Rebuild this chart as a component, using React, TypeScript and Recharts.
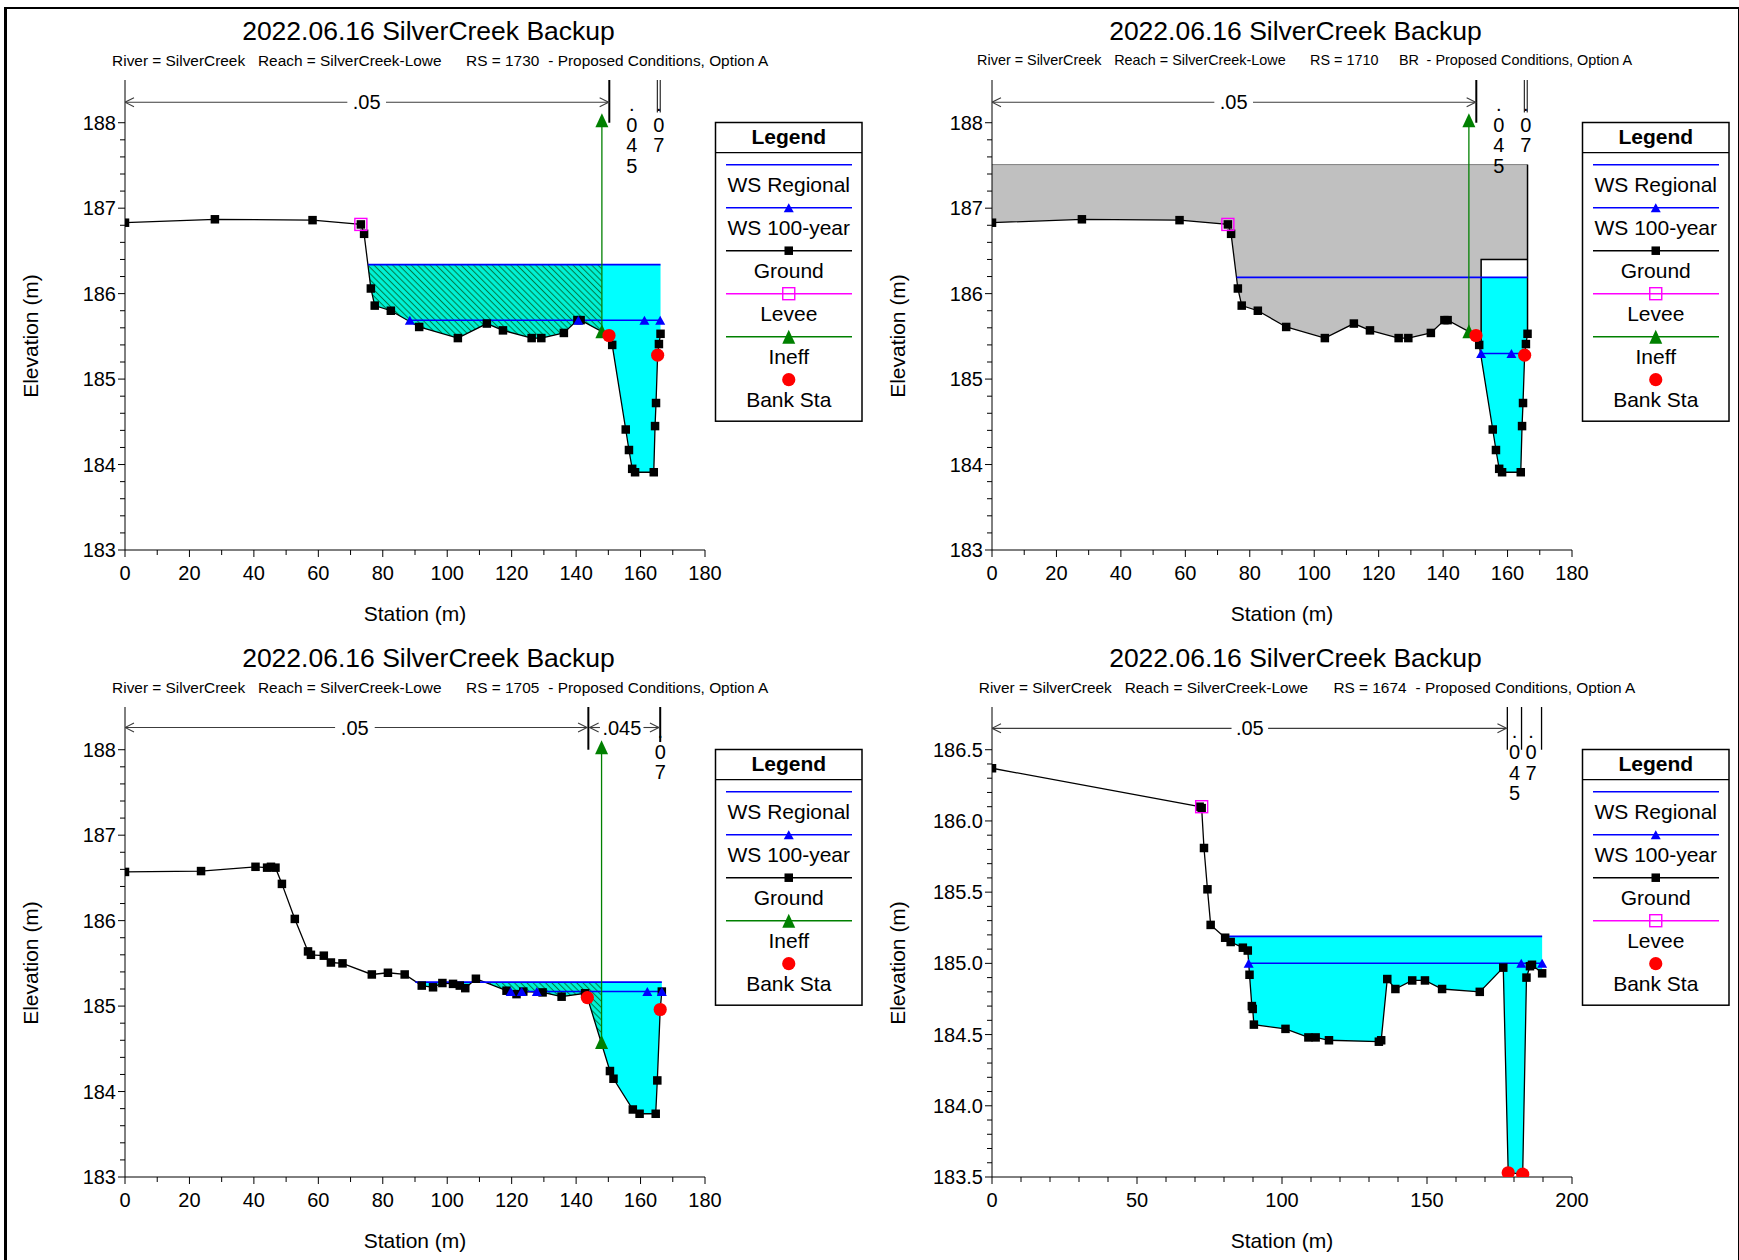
import React from 'react';
import { ComposedChart, Area, Line, Scatter, XAxis, YAxis } from 'recharts';

const FONT = '"Liberation Sans", Arial, Helvetica, sans-serif';
const TITLE = '2022.06.16 SilverCreek Backup';

// ---------------- Ground data ----------------
// RS 1730 (also used for the bridge section RS 1710, same geometry)
const GROUND_1730_STA = [0, 27.9, 58.2, 73.2, 74.2, 76.3, 77.5, 82.5, 91.3, 103.3, 112.3, 117.3, 126.2, 129.2, 136.2, 140.4, 141.4, 150.2, 151.2, 155.4, 156.4, 157.4, 158.3, 164.1, 164.5, 164.8, 165.3, 165.7, 166.2];
const GROUND_1730_ELEV = [186.83, 186.87, 186.86, 186.81, 186.70, 186.06, 185.86, 185.80, 185.61, 185.48, 185.65, 185.57, 185.48, 185.48, 185.54, 185.69, 185.69, 185.51, 185.40, 184.41, 184.17, 183.95, 183.91, 183.91, 184.45, 184.72, 185.28, 185.41, 185.53];
// RS 1705
const GROUND_1705_STA = [0, 23.6, 40.5, 44.1, 45.3, 46.7, 48.7, 52.7, 56.8, 57.7, 61.7, 63.9, 67.5, 76.6, 81.6, 86.8, 92.1, 95.6, 98.5, 101.8, 103.9, 105.6, 108.9, 118.4, 121.5, 123.6, 129.6, 135.5, 142.8, 143.5, 150.5, 151.6, 157.6, 159.7, 164.7, 165.2, 166.1, 166.6];
const GROUND_1705_ELEV = [186.57, 186.58, 186.63, 186.62, 186.63, 186.62, 186.43, 186.02, 185.64, 185.60, 185.59, 185.51, 185.50, 185.37, 185.39, 185.37, 185.24, 185.22, 185.27, 185.26, 185.24, 185.21, 185.32, 185.18, 185.14, 185.17, 185.16, 185.11, 185.15, 185.10, 184.24, 184.15, 183.79, 183.74, 183.74, 184.13, 184.96, 185.17];
// RS 1674
const GROUND_1674_STA = [0, 71.6, 72.3, 73.1, 74.3, 75.4, 80.4, 82.3, 86.5, 88.2, 88.8, 89.6, 89.9, 90.3, 101.2, 109.1, 111.6, 116.2, 133.4, 134.2, 136.3, 139.1, 144.9, 149.3, 155.2, 168.2, 176.3, 178.0, 183.0, 184.3, 185.5, 186.2, 189.7];
const GROUND_1674_ELEV = [186.37, 186.10, 186.09, 185.81, 185.52, 185.27, 185.18, 185.15, 185.11, 185.09, 184.92, 184.70, 184.68, 184.57, 184.54, 184.48, 184.48, 184.46, 184.45, 184.46, 184.89, 184.82, 184.88, 184.88, 184.82, 184.80, 184.97, 183.53, 183.52, 184.90, 184.98, 184.99, 184.93];

// ---------------- Water surfaces ----------------
const WSREG_1730_STA = [75.4, 166.2]; const WSREG_1730_ELEV = 186.34;
const WS100_1730_STA = [88.4, 140.7, 161.2, 166.1]; const WS100_1730_ELEV = 185.69;
const WSREG_1710_STA = [75.9, 166.2]; const WSREG_1710_ELEV = 186.19;
const WS100_1710_STA = [151.8, 161.2, 165.4]; const WS100_1710_ELEV = 185.30;
const WSREG_1705_STA = [90.1, 166.6]; const WSREG_1705_ELEV = 185.28;
const WS100_1705_STA = [119.7, 123.1, 127.8, 162.1, 166.6]; const WS100_1705_ELEV = 185.17;
const WSREG_1674_STA = [79.5, 189.7]; const WSREG_1674_ELEV = 185.19;
const WS100_1674_STA = [88.5, 182.5, 189.7]; const WS100_1674_ELEV = 185.00;

// ---------------- Bank stations, levees, ineffective ----------------
const BANK_1730_STA = [150.2, 165.3]; const BANK_1730_ELEV = [185.51, 185.28];
const BANK_1705_STA = [143.5, 166.1]; const BANK_1705_ELEV = [185.10, 184.96];
const BANK_1674_STA = [178.0, 183.0]; const BANK_1674_ELEV = [183.53, 183.52];
const LEVEE_1730_STA = [73.2]; const LEVEE_1730_ELEV = [186.81];
const LEVEE_1674_STA = [72.3]; const LEVEE_1674_ELEV = [186.10];
const INEFF_1730_STA = [148.0, 148.0]; const INEFF_1730_ELEV = [185.56, 188.03];
const INEFF_1705_STA = [147.9, 147.9]; const INEFF_1705_ELEV = [184.58, 188.03];

// ---------------- Fills (kind, station range, top elevation) ----------------
const FILLS_1730 = [
  { kind: 'hatch', sta: [75.4, 148.0], top: 186.34 },
  { kind: 'cyan', sta: [148.0, 166.2], top: 186.34 },
];
const FILLS_1710 = [
  { kind: 'grey', sta: [0, 166.2], top: 187.51 },
  { kind: 'white', sta: [151.8, 166.2], top: 186.40 },
  { kind: 'cyan', sta: [151.8, 166.2], top: 186.19 },
];
const FILLS_1705 = [
  { kind: 'cyan', sta: [90.1, 108.9], top: 185.28 },
  { kind: 'hatch', sta: [108.9, 147.9], top: 185.28 },
  { kind: 'cyan', sta: [147.9, 166.6], top: 185.28 },
];
const FILLS_1674 = [{ kind: 'cyan', sta: [79.5, 189.7], top: 185.19 }];

// Bridge opening outline for RS 1710
const OPENING_1710 = [
  { sta: [151.8, 151.8, 166.2], elev: [185.35, 186.40, 186.40] },
  { sta: [166.2, 166.2], elev: [187.51, 185.53] },
];

// ---------------- Manning's n annotations ----------------
const N_ARROWS_A = [
  { x1: 0, x2: 69.0, y: 188.24, l: true, r: false },
  { x1: 81.0, x2: 150.1, y: 188.24, l: false, r: true },
];
const N_BREAKS_A = [
  { x: 150.3, y1: 188.0, y2: 188.5, w: 2 },
  { x: 165.2, y1: 188.12, y2: 188.5, w: 1 },
  { x: 166.1, y1: 188.12, y2: 188.5, w: 1 },
];
const N_TEXT_A = [
  { x: 75.0, y: 188.24, t: '.05', v: false },
  { x: 157.3, y: 188.22, t: '.045', v: true },
  { x: 165.65, y: 188.22, t: '.07', v: true },
];
const N_ARROWS_C = [
  { x1: 0, x2: 65.2, y: 188.26, l: true, r: false },
  { x1: 77.5, x2: 143.4, y: 188.26, l: false, r: true },
  { x1: 144.2, x2: 147.4, y: 188.26, l: true, r: false },
  { x1: 160.9, x2: 165.7, y: 188.26, l: false, r: true },
];
const N_BREAKS_C = [
  { x: 143.8, y1: 188.0, y2: 188.5, w: 2 },
  { x: 166.1, y1: 188.09, y2: 188.5, w: 2 },
];
const N_TEXT_C = [
  { x: 71.3, y: 188.26, t: '.05', v: false },
  { x: 154.2, y: 188.26, t: '.045', v: false },
  { x: 166.1, y: 188.22, t: '.07', v: true },
];
const N_ARROWS_D = [
  { x1: 0, x2: 82.6, y: 186.65, l: true, r: false },
  { x1: 95.2, x2: 177.4, y: 186.65, l: false, r: true },
];
const N_BREAKS_D = [
  { x: 177.7, y1: 186.5, y2: 186.8, w: 1.3 },
  { x: 182.6, y1: 186.5, y2: 186.8, w: 1.3 },
  { x: 189.5, y1: 186.5, y2: 186.8, w: 1.3 },
];
const N_TEXT_D = [
  { x: 88.9, y: 186.65, t: '.05', v: false },
  { x: 180.2, y: 186.63, t: '.045', v: true },
  { x: 185.9, y: 186.63, t: '.07', v: true },
];

// ---------------- Axis ticks ----------------
const X_TICKS_180 = [0, 10, 20, 30, 40, 50, 60, 70, 80, 90, 100, 110, 120, 130, 140, 150, 160, 170, 180];
const X_TICKS_200 = [0, 10, 20, 30, 40, 50, 60, 70, 80, 90, 100, 110, 120, 130, 140, 150, 160, 170, 180, 190, 200];
const Y_TICKS_183_188 = [183, 183.2, 183.4, 183.6, 183.8, 184, 184.2, 184.4, 184.6, 184.8, 185, 185.2, 185.4, 185.6, 185.8, 186, 186.2, 186.4, 186.6, 186.8, 187, 187.2, 187.4, 187.6, 187.8, 188];
const Y_TICKS_1835_1865 = [183.5, 183.6, 183.7, 183.8, 183.9, 184.0, 184.1, 184.2, 184.3, 184.4, 184.5, 184.6, 184.7, 184.8, 184.9, 185.0, 185.1, 185.2, 185.3, 185.4, 185.5, 185.6, 185.7, 185.8, 185.9, 186.0, 186.1, 186.2, 186.3, 186.4, 186.5];

const LEGEND_FULL = ['WS Regional', 'WS 100-year', 'Ground', 'Levee', 'Ineff', 'Bank Sta'];
const LEGEND_NO_LEVEE = ['WS Regional', 'WS 100-year', 'Ground', 'Ineff', 'Bank Sta'];
const LEGEND_NO_INEFF = ['WS Regional', 'WS 100-year', 'Ground', 'Levee', 'Bank Sta'];

// Subtitle pieces: [text, x] (x in px within a panel)
const SUB_1730 = [['River = SilverCreek', 112.1], ['Reach = SilverCreek-Lowe', 258], ['RS = 1730', 466.1], ['- Proposed Conditions, Option A', 548.3]];
const SUB_1710 = [['River = SilverCreek', 110.1], ['Reach = SilverCreek-Lowe', 247.2], ['RS = 1710', 443], ['BR', 531.9], ['- Proposed Conditions, Option A', 559.6]];
const SUB_1705 = [['River = SilverCreek', 112.1], ['Reach = SilverCreek-Lowe', 258], ['RS = 1705', 466.1], ['- Proposed Conditions, Option A', 548.3]];
const SUB_1674 = [['River = SilverCreek', 111.8], ['Reach = SilverCreek-Lowe', 257.7], ['RS = 1674', 466.4], ['- Proposed Conditions, Option A', 548.5]];

// ---------------- helpers ----------------
type Pt = { x: number; y: number };
const pts = (xs: number[], ys: number[]): Pt[] => xs.map((x, i) => ({ x, y: ys[i] }));
const flat = (xs: number[], y: number): Pt[] => xs.map((x) => ({ x, y }));
const isMult = (v: number, step: number) => Math.abs(v / step - Math.round(v / step)) < 1e-6;

const COL = {
  cyan: '#00ffff',
  blue: '#0000ff',
  green: '#008000',
  red: '#ff0000',
  magenta: '#ff00ff',
  grey: '#c0c0c0',
  greyEdge: '#808080',
  hatchBg: '#00f2d6',
  hatchLine: '#007a48',
  arrow: '#3c3c3c',
};

const triPath = (cx: number, cy: number, w: number, h: number) =>
  `M${cx - w / 2},${cy + h / 2} L${cx + w / 2},${cy + h / 2} L${cx},${cy - h / 2} Z`;

const Tri = ({ cx, cy, w, h, fill }: any) => <path d={triPath(cx, cy, w, h)} fill={fill} stroke="none" />;
const Sq = ({ cx, cy, s, fill }: any) => <rect x={cx - s / 2} y={cy - s / 2} width={s} height={s} fill={fill} />;
const HollowSq = ({ cx, cy, s, stroke }: any) => (
  <rect x={cx - s / 2} y={cy - s / 2} width={s} height={s} fill="none" stroke={stroke} strokeWidth={1.4} />
);

const okPt = (p: any) => p && typeof p.cx === 'number' && typeof p.cy === 'number' && !isNaN(p.cy);

const groundDot = (p: any) =>
  okPt(p) ? <Sq key={`g${p.index}`} cx={p.cx} cy={p.cy} s={8.5} fill="#000" /> : <g key={`g${p.index}`} />;
const wsDot = (p: any) =>
  okPt(p) ? <Tri key={`w${p.index}`} cx={p.cx} cy={p.cy} w={10} h={9} fill={COL.blue} /> : <g key={`w${p.index}`} />;
const ineffDot = (p: any) =>
  okPt(p) ? <Tri key={`i${p.index}`} cx={p.cx} cy={p.cy} w={13} h={14} fill={COL.green} /> : <g key={`i${p.index}`} />;

const arrowDot = (seg: any) => (p: any) => {
  if (!okPt(p)) return <g key={`a${p.index}`} />;
  const left = p.index === 0 && seg.l;
  const right = p.index === 1 && seg.r;
  if (!left && !right) return <g key={`a${p.index}`} />;
  const d = left ? 1 : -1;
  return (
    <path
      key={`a${p.index}`}
      d={`M${p.cx + d * 9},${p.cy - 4.5} L${p.cx},${p.cy} L${p.cx + d * 9},${p.cy + 4.5}`}
      fill="none"
      stroke={COL.arrow}
      strokeWidth={1.1}
    />
  );
};

const nTextShape = (props: any) => {
  const { cx, cy, payload } = props;
  if (typeof cx !== 'number') return <g />;
  const st = { fontFamily: FONT, fontSize: 20, fill: '#000' };
  if (payload.v) {
    return (
      <g>
        {payload.t.split('').map((ch: string, i: number) => (
          <text key={i} x={cx} y={cy + i * 20.7} textAnchor="middle" dominantBaseline="central" style={st}>
            {ch}
          </text>
        ))}
      </g>
    );
  }
  return (
    <g>
      <text x={cx} y={cy} textAnchor="middle" dominantBaseline="central" style={st}>
        {payload.t}
      </text>
    </g>
  );
};

const bankShape = (p: any) =>
  typeof p.cx === 'number' ? <circle cx={p.cx} cy={p.cy} r={6.6} fill={COL.red} /> : <g />;
const leveeShape = (p: any) =>
  typeof p.cx === 'number' ? <HollowSq cx={p.cx} cy={p.cy} s={12} stroke={COL.magenta} /> : <g />;

const makeXTick = (step: number) => (props: any) => {
  const { x, y, payload } = props;
  const v = payload.value;
  const major = isMult(v, step);
  return (
    <g>
      <line x1={x} x2={x} y1={y} y2={y + (major ? 7 : 5)} stroke="#000" strokeWidth={1} />
      {major && (
        <text x={x} y={y + 23} textAnchor="middle" dominantBaseline="central" style={{ fontFamily: FONT, fontSize: 20, fill: '#000' }}>
          {v}
        </text>
      )}
    </g>
  );
};

const makeYTick = (step: number, decimals: number) => (props: any) => {
  const { x, y, payload } = props;
  const v = payload.value;
  const major = isMult(v, step);
  return (
    <g>
      <line x1={x} x2={x - (major ? 7 : 5)} y1={y} y2={y} stroke="#000" strokeWidth={1} />
      {major && (
        <text x={x - 9} y={y} textAnchor="end" dominantBaseline="central" style={{ fontFamily: FONT, fontSize: 20, fill: '#000' }}>
          {v.toFixed(decimals)}
        </text>
      )}
    </g>
  );
};

// ---------------- panels ----------------
const PANELS: any[] = [
  {
    id: 'p1', left: 0, top: 0, sub: SUB_1730, subSize: 15.4,
    xDomain: [0, 180], xTicks: X_TICKS_180, xStep: 20,
    yDomain: [183, 188.5], yTicks: Y_TICKS_183_188, yStep: 1, yDec: 0,
    ground: pts(GROUND_1730_STA, GROUND_1730_ELEV),
    wsReg: flat(WSREG_1730_STA, WSREG_1730_ELEV),
    ws100: flat(WS100_1730_STA, WS100_1730_ELEV),
    bank: pts(BANK_1730_STA, BANK_1730_ELEV),
    levee: pts(LEVEE_1730_STA, LEVEE_1730_ELEV),
    ineff: pts(INEFF_1730_STA, INEFF_1730_ELEV),
    fills: FILLS_1730, outline: [],
    arrows: N_ARROWS_A, breaks: N_BREAKS_A, ntext: N_TEXT_A,
    legend: LEGEND_FULL,
  },
  {
    id: 'p2', left: 867, top: 0, sub: SUB_1710, subSize: 14.4,
    xDomain: [0, 180], xTicks: X_TICKS_180, xStep: 20,
    yDomain: [183, 188.5], yTicks: Y_TICKS_183_188, yStep: 1, yDec: 0,
    ground: pts(GROUND_1730_STA, GROUND_1730_ELEV),
    wsReg: flat(WSREG_1710_STA, WSREG_1710_ELEV),
    ws100: flat(WS100_1710_STA, WS100_1710_ELEV),
    bank: pts(BANK_1730_STA, BANK_1730_ELEV),
    levee: pts(LEVEE_1730_STA, LEVEE_1730_ELEV),
    ineff: pts(INEFF_1730_STA, INEFF_1730_ELEV),
    fills: FILLS_1710, outline: OPENING_1710,
    arrows: N_ARROWS_A, breaks: N_BREAKS_A, ntext: N_TEXT_A,
    legend: LEGEND_FULL,
  },
  {
    id: 'p3', left: 0, top: 627, sub: SUB_1705, subSize: 15.4,
    xDomain: [0, 180], xTicks: X_TICKS_180, xStep: 20,
    yDomain: [183, 188.5], yTicks: Y_TICKS_183_188, yStep: 1, yDec: 0,
    ground: pts(GROUND_1705_STA, GROUND_1705_ELEV),
    wsReg: flat(WSREG_1705_STA, WSREG_1705_ELEV),
    ws100: flat(WS100_1705_STA, WS100_1705_ELEV),
    bank: pts(BANK_1705_STA, BANK_1705_ELEV),
    levee: [],
    ineff: pts(INEFF_1705_STA, INEFF_1705_ELEV),
    fills: FILLS_1705, outline: [],
    arrows: N_ARROWS_C, breaks: N_BREAKS_C, ntext: N_TEXT_C,
    legend: LEGEND_NO_LEVEE,
  },
  {
    id: 'p4', left: 867, top: 627, sub: SUB_1674, subSize: 15.4,
    xDomain: [0, 200], xTicks: X_TICKS_200, xStep: 50,
    yDomain: [183.5, 186.8], yTicks: Y_TICKS_1835_1865, yStep: 0.5, yDec: 1,
    ground: pts(GROUND_1674_STA, GROUND_1674_ELEV),
    wsReg: flat(WSREG_1674_STA, WSREG_1674_ELEV),
    ws100: flat(WS100_1674_STA, WS100_1674_ELEV),
    bank: pts(BANK_1674_STA, BANK_1674_ELEV),
    levee: pts(LEVEE_1674_STA, LEVEE_1674_ELEV),
    ineff: [],
    fills: FILLS_1674, outline: [],
    arrows: N_ARROWS_D, breaks: N_BREAKS_D, ntext: N_TEXT_D,
    legend: LEGEND_NO_INEFF,
  },
];

const fillColor = (kind: string, id: string) =>
  kind === 'hatch' ? `url(#hatch-${id})` : kind === 'grey' ? COL.grey : kind === 'white' ? '#ffffff' : COL.cyan;
const fillStroke = (kind: string) => (kind === 'grey' ? COL.greyEdge : kind === 'white' ? '#000' : 'none');

const LegendItem = ({ name, i, cx, x1, x2 }: any) => {
  const ly = 164.7 + 43 * i;
  const ty = ly + 19.5;
  let line: any = null;
  let marker: any = null;
  if (name === 'WS Regional') line = COL.blue;
  if (name === 'WS 100-year') { line = COL.blue; marker = <Tri cx={cx} cy={ly} w={10} h={9} fill={COL.blue} />; }
  if (name === 'Ground') { line = '#000'; marker = <Sq cx={cx} cy={ly} s={8.5} fill="#000" />; }
  if (name === 'Levee') { line = COL.magenta; marker = <HollowSq cx={cx} cy={ly} s={12} stroke={COL.magenta} />; }
  if (name === 'Ineff') { line = COL.green; marker = <Tri cx={cx} cy={ly} w={13} h={14} fill={COL.green} />; }
  if (name === 'Bank Sta') marker = <circle cx={cx} cy={ly} r={6.6} fill={COL.red} />;
  return (
    <g>
      {line && <line x1={x1} x2={x2} y1={ly} y2={ly} stroke={line} strokeWidth={1.5} />}
      {marker}
      <text x={cx} y={ty} textAnchor="middle" dominantBaseline="central" style={{ fontFamily: FONT, fontSize: 21, fill: '#000' }}>
        {name}
      </text>
    </g>
  );
};

const Overlay = ({ cfg }: any) => {
  const x0 = 715.5, y0 = 122.5, w = 146.5;
  const n = cfg.legend.length;
  const h = (n - 1) * 43 + 164.7 + 19.5 + 22 - y0;
  const cx = x0 + w / 2;
  const base = { fontFamily: FONT, fill: '#000' };
  return (
    <svg width={870} height={630} style={{ position: 'absolute', left: 0, top: 0, overflow: 'visible' }}>
      <text x={428.5} y={31} textAnchor="middle" dominantBaseline="central" style={{ ...base, fontSize: 26.5 }}>
        {TITLE}
      </text>
      {cfg.sub.map((s: any, i: number) => (
        <text key={i} x={s[1]} y={60} dominantBaseline="central" style={{ ...base, fontSize: cfg.subSize }}>
          {s[0]}
        </text>
      ))}
      <text transform="translate(30,336) rotate(-90)" textAnchor="middle" dominantBaseline="central" style={{ ...base, fontSize: 21 }}>
        Elevation (m)
      </text>
      <text x={415} y={613.5} textAnchor="middle" dominantBaseline="central" style={{ ...base, fontSize: 21 }}>
        Station (m)
      </text>
      <rect x={x0} y={y0} width={w} height={h} fill="#fff" stroke="#000" strokeWidth={1.5} />
      <text x={cx} y={136} textAnchor="middle" dominantBaseline="central" style={{ ...base, fontSize: 21, fontWeight: 'bold' }}>
        Legend
      </text>
      <line x1={x0} x2={x0 + w} y1={152.7} y2={152.7} stroke="#000" strokeWidth={1.2} />
      {cfg.legend.map((name: string, i: number) => (
        <LegendItem key={name} name={name} i={i} cx={cx} x1={726} x2={852} />
      ))}
    </svg>
  );
};

const Panel = ({ cfg }: any) => {
  const yMin = cfg.yDomain[0];
  const last = cfg.ground[cfg.ground.length - 1];
  const maskEdge = pts([last.x, last.x], [last.y, yMin]);
  return (
    <div style={{ position: 'absolute', left: cfg.left, top: cfg.top, width: 870, height: 630 }}>
      <Overlay cfg={cfg} />
      <div style={{ position: 'absolute', left: 0, top: 0 }}>
        <ComposedChart width={870} height={630} margin={{ top: 80, right: 165, bottom: 0, left: 0 }}>
          <defs>
            <pattern id={`hatch-${cfg.id}`} patternUnits="userSpaceOnUse" width={4.4} height={4.4} patternTransform="rotate(45)">
              <rect x={0} y={0} width={4.4} height={4.4} fill={COL.hatchBg} />
              <line x1={0} y1={2.2} x2={4.4} y2={2.2} stroke={COL.hatchLine} strokeWidth={1.05} />
            </pattern>
          </defs>
          <XAxis
            type="number" dataKey="x" domain={cfg.xDomain} ticks={cfg.xTicks} interval={0} allowDataOverflow
            height={80} tickSize={0} tickMargin={0} tickLine={false}
            axisLine={{ stroke: '#000', strokeWidth: 1 }} tick={makeXTick(cfg.xStep)}
          />
          <YAxis
            type="number" dataKey="y" domain={cfg.yDomain} ticks={cfg.yTicks} interval={0} allowDataOverflow
            width={125} tickSize={0} tickMargin={0} tickLine={false}
            axisLine={{ stroke: '#000', strokeWidth: 1 }} tick={makeYTick(cfg.yStep, cfg.yDec)}
          />
          {cfg.fills.map((f: any, i: number) => (
            <Area
              key={`f${i}`} data={flat(f.sta, f.top)} dataKey="y" type="linear" baseValue={yMin}
              fill={fillColor(f.kind, cfg.id)} fillOpacity={1} stroke={fillStroke(f.kind)} strokeWidth={1}
              isAnimationActive={false} dot={false} activeDot={false}
            />
          ))}
          <Area
            data={cfg.ground} dataKey="y" type="linear" baseValue={yMin} fill="#ffffff" fillOpacity={1}
            stroke="none" isAnimationActive={false} dot={false} activeDot={false}
          />
          <Line data={maskEdge} dataKey="y" type="linear" stroke="#ffffff" strokeWidth={2.5}
            dot={false} activeDot={false} isAnimationActive={false} />
          {cfg.outline.map((o: any, i: number) => (
            <Line key={`o${i}`} data={pts(o.sta, o.elev)} dataKey="y" type="linear" stroke="#000" strokeWidth={1.5}
              dot={false} activeDot={false} isAnimationActive={false} />
          ))}
          <Line data={cfg.ground} dataKey="y" type="linear" stroke="#000" strokeWidth={1.3}
            dot={groundDot} activeDot={false} isAnimationActive={false} />
          <Line data={cfg.wsReg} dataKey="y" type="linear" stroke={COL.blue} strokeWidth={1.8}
            dot={false} activeDot={false} isAnimationActive={false} />
          <Line data={cfg.ws100} dataKey="y" type="linear" stroke={COL.blue} strokeWidth={1.5}
            dot={wsDot} activeDot={false} isAnimationActive={false} />
          {cfg.ineff.length > 0 && (
            <Line data={cfg.ineff} dataKey="y" type="linear" stroke={COL.green} strokeWidth={1.3}
              dot={ineffDot} activeDot={false} isAnimationActive={false} />
          )}
          {cfg.arrows.map((s: any, i: number) => (
            <Line key={`ar${i}`} data={flat([s.x1, s.x2], s.y)} dataKey="y" type="linear" stroke={COL.arrow}
              strokeWidth={1.1} dot={arrowDot(s)} activeDot={false} isAnimationActive={false} />
          ))}
          {cfg.breaks.map((b: any, i: number) => (
            <Line key={`br${i}`} data={pts([b.x, b.x], [b.y1, b.y2])} dataKey="y" type="linear" stroke="#000"
              strokeWidth={b.w} dot={false} activeDot={false} isAnimationActive={false} />
          ))}
          {cfg.levee.length > 0 && (
            <Scatter data={cfg.levee} dataKey="y" shape={leveeShape} isAnimationActive={false} />
          )}
          <Scatter data={cfg.bank} dataKey="y" shape={bankShape} isAnimationActive={false} />
          <Scatter data={cfg.ntext} dataKey="y" shape={nTextShape} isAnimationActive={false} />
        </ComposedChart>
      </div>
    </div>
  );
};

export default function App() {
  return (
    <div style={{ position: 'absolute', left: 0, top: 0, width: 1739, height: 1260, background: '#fff', overflow: 'hidden' }}>
      {PANELS.map((cfg) => (
        <Panel key={cfg.id} cfg={cfg} />
      ))}
      <div
        style={{
          position: 'absolute', left: 4, top: 7, width: 1731, height: 1270,
          borderTop: '2px solid #000', borderLeft: '3px solid #000', borderRight: '2px solid #000',
          pointerEvents: 'none',
        }}
      />
    </div>
  );
}
